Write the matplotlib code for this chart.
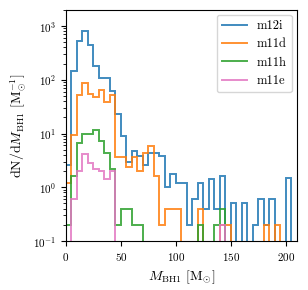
import numpy as np
import matplotlib
matplotlib.use("Agg")
import matplotlib.pyplot as plt
from matplotlib.lines import Line2D

plt.rcParams['font.family'] = 'serif'
plt.rcParams['font.serif'] = ['cmr10', 'DejaVu Serif']
plt.rcParams['mathtext.fontset'] = 'cm'
plt.rcParams['axes.unicode_minus'] = False
plt.rcParams['axes.formatter.use_mathtext'] = True

bin_edges = np.arange(0, 215, 5)

labels = ["m12i", "m11d", "m11h", "m11e"]
colors = ["#1f77b4", "#ff7f0e", "#2ca02c", "#e377c2"]

m12i = [2.6, 146, 519, 820, 437, 180, 108, 108, 63, 23.4,
        9.0, 3.0, 4.7, 3.8, 2.6, 4.4, 4.4, 3.8, 1.0, 1.8,
        1.2, 1.2, 0.2, 0.6, 1.2, 0.4, 1.4, 0.4, 1.6, 0,
        0.5, 0, 0.5, 0, 0.2, 0.6, 0.2, 0.6, 0, 0,
        1.5, 0]
m11d = [1.2, 9.2, 53, 87, 55, 48, 65, 39, 51, 3.6,
        3.6, 2.4, 3.6, 2.0, 4.4, 5.8, 1.6, 0.2, 0.4, 0.4,
        0.4, 0, 0, 0, 0.4, 0, 0, 0, 0.2, 0.2,
        0, 0, 0, 0, 0, 0, 0.2, 0, 0.2, 0,
        0, 0]
m11h = [0.2, 1.6, 6.8, 9.6, 10, 11.4, 7.2, 4.4, 2.2, 0.2,
        0.4, 0.4, 0.2, 0.2, 0, 0, 0, 0, 0, 0,
        0, 0, 0, 0, 0.2, 0, 0, 0.2, 0.4, 0,
        0, 0, 0, 0, 0, 0, 0, 0, 0, 0,
        0, 0]
m11e = [0, 0.6, 2.0, 4.2, 2.8, 2.2, 2.0, 1.4, 2.0, 0,
        0, 0, 0, 0, 0, 0, 0, 0, 0, 0,
        0, 0, 0, 0, 0, 0, 0, 0, 0.2, 0,
        0, 0, 0, 0, 0, 0, 0, 0, 0, 0,
        0, 0]

series = [m12i, m11d, m11h, m11e]

fig = plt.figure(figsize=(3.08, 2.90), dpi=100)
ax = fig.add_axes([0.214, 0.169, 0.750, 0.797])

for vals, c in zip(series, colors):
    ax.stairs(vals, bin_edges, color=c, lw=1.4, alpha=0.85, baseline=1e-5)

ax.set_yscale('log')
ax.set_ylim(0.1, 2000)
ax.set_xlim(0, 210)
ax.set_xticks([0, 50, 100, 150, 200])
ax.tick_params(labelsize=8)
ax.set_xlabel(r'$M_{\rm BH1}\ [\rm M_{\odot}]$', fontsize=10)
ax.set_ylabel(r'$\rm dN/d\it M_{\rm BH1}\ \rm [M_{\odot}^{-1}]$', fontsize=10)

handles = [Line2D([], [], color=c, lw=1.4, alpha=0.85, label=l) for c, l in zip(colors, labels)]
ax.legend(handles=handles, loc='upper right', fontsize=9, framealpha=0.8,
          handlelength=2.0, borderaxespad=0.4)

fig.savefig("out.png", dpi=100)
